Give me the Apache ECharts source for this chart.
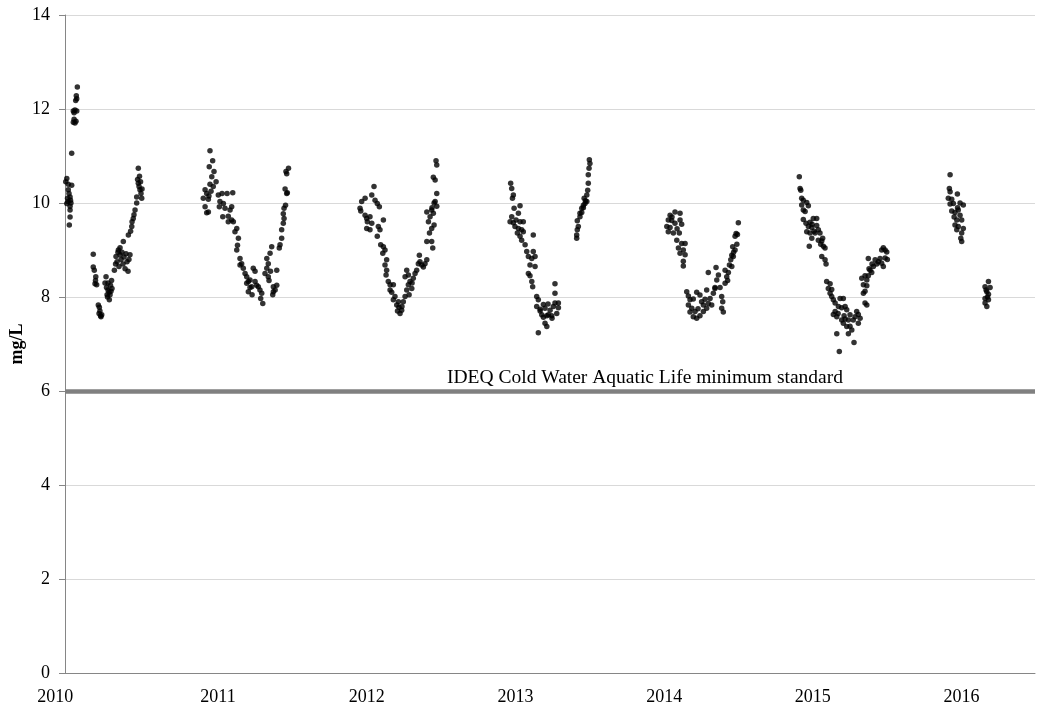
<!DOCTYPE html>
<html>
<head>
<meta charset="utf-8">
<script src="https://cdn.jsdelivr.net/npm/echarts@6/dist/echarts.min.js"></script>
<style>
  html, body { margin: 0; padding: 0; background: #fff; }
  #chart { width: 1037px; height: 713px; }
</style>
</head>
<body>
<div id="chart"></div>
<script>
// Dissolved oxygen readings, [decimal year, mg/L], grouped by season
const obs2010 = [
  [2009.983,10.52],[2009.976,10.45],[2009.993,10.40],[2010.016,10.38],[2009.993,10.28],[2009.998,10.20],[2010.005,10.13],[2010.008,10.06],[2009.983,9.99],[2009.991,10.03],[2010.005,9.93],[2010.005,9.85],[2010.005,9.70],[2010.000,9.53],[2009.988,10.10],[2010.011,10.00],
  [2010.054,12.47],[2010.050,12.22],[2010.043,12.18],[2010.047,12.28],[2010.027,11.96],[2010.038,11.98],[2010.050,11.96],[2010.032,11.92],[2010.027,11.72],[2010.038,11.70],[2010.045,11.74],[2010.032,11.78],[2010.016,11.06],
  [2010.161,8.91],[2010.161,8.64],[2010.168,8.57],[2010.178,8.43],[2010.173,8.28],[2010.184,8.26],[2010.176,8.35],
  [2010.195,7.83],[2010.202,7.78],[2010.206,7.70],[2010.218,7.62],[2010.213,7.58],[2010.200,7.65],[2010.210,7.60],
  [2010.247,8.43],[2010.240,8.30],[2010.250,8.20],[2010.260,8.15],[2010.254,8.05],[2010.269,7.94],[2010.274,8.05],[2010.280,8.12],[2010.260,8.30],[2010.277,8.25],[2010.287,8.18],[2010.267,8.10],[2010.257,8.00],[2010.284,8.35],
  [2010.303,8.57],[2010.314,8.86],[2010.330,9.00],[2010.321,8.75],[2010.334,8.65],[2010.341,8.90],[2010.348,8.80],[2010.354,8.95],[2010.361,8.70],[2010.368,8.85],[2010.375,8.60],[2010.381,8.92],[2010.388,8.75],[2010.395,8.55],[2010.401,8.80],[2010.408,8.90],[2010.311,8.70],[2010.327,8.95],[2010.341,9.05],[2010.363,9.18],[2010.397,9.32],[2010.420,9.50],[2010.430,9.67],[2010.442,9.85],[2010.453,10.00],[2010.453,10.13],[2010.464,10.42],[2010.472,10.57],[2010.464,10.74],[2010.487,10.10],[2010.475,10.28],[2010.469,10.35],[2010.479,10.45],[2010.482,10.20],[2010.489,10.30],[2010.459,10.50],[2010.435,9.75],[2010.422,9.60],[2010.412,9.40]
];
const obs2011 = [
  [2010.946,11.11],[2010.964,10.90],[2010.941,10.77],[2010.973,10.67],[2010.958,10.56],[2010.987,10.45],[2010.946,10.40],[2010.968,10.35],[2010.913,10.28],[2010.924,10.20],[2010.901,10.10],[2010.935,10.08],[2010.913,9.92],[2010.935,9.81],[2010.924,9.79],[2010.953,10.25],[2010.939,10.15],
  [2011.002,10.17],[2011.027,10.20],[2011.061,10.20],[2011.099,10.22],[2011.013,10.03],[2011.036,9.99],[2011.009,9.92],[2011.047,9.89],[2011.081,9.85],[2011.092,9.92],[2011.032,9.71],[2011.069,9.72],[2011.092,9.64],[2011.103,9.60],[2011.069,9.60],[2011.126,9.46],[2011.114,9.39],[2011.137,9.25],[2011.126,9.00],[2011.131,9.10],
  [2011.148,8.82],[2011.159,8.71],[2011.148,8.68],[2011.170,8.61],[2011.182,8.50],[2011.193,8.43],[2011.204,8.33],[2011.215,8.36],[2011.237,8.61],[2011.249,8.55],[2011.193,8.29],[2011.204,8.11],[2011.227,8.22],[2011.249,8.33],[2011.271,8.22],[2011.282,8.15],[2011.260,8.25],[2011.294,8.08],[2011.287,7.97],[2011.301,7.86],[2011.215,8.20],[2011.229,8.05],
  [2011.328,8.61],[2011.338,8.71],[2011.328,8.82],[2011.350,8.93],[2011.361,9.07],[2011.316,8.50],[2011.338,8.43],[2011.395,8.57],[2011.372,8.22],[2011.384,8.15],[2011.395,8.25],[2011.372,8.11],[2011.368,8.05],[2011.343,8.35],[2011.353,8.55],
  [2011.412,9.04],[2011.417,9.11],[2011.428,9.25],[2011.428,9.43],[2011.439,9.57],[2011.444,9.67],[2011.439,9.77],[2011.444,9.89],[2011.454,9.95],[2011.462,10.20],[2011.466,10.22],[2011.457,10.67],[2011.462,10.62],[2011.474,10.74],[2011.451,10.30]
];
const obs2012 = [
  [2012.049,10.35],[2012.034,10.17],[2012.056,10.06],[2012.071,9.99],[2012.085,9.92],[2011.989,10.10],[2011.966,10.03],[2011.955,9.89],[2011.960,9.83],[2011.989,9.74],[2012.000,9.67],[2012.022,9.71],[2012.004,9.60],[2012.034,9.57],[2012.000,9.46],[2012.022,9.43],[2012.078,9.50],[2012.089,9.43],[2012.112,9.64],[2012.071,9.29],[2012.094,9.11],[2012.112,9.07],[2012.123,9.00],[2012.108,8.93],[2012.134,8.79],[2012.123,8.68],[2012.134,8.57],[2012.130,8.47],[2012.145,8.33],[2012.157,8.26],[2012.179,8.26],[2012.157,8.15],[2012.168,8.10],[2012.190,8.01],[2012.179,7.94],[2012.213,7.90],[2012.202,7.83],[2012.224,7.65],[2012.235,7.72],[2012.246,7.90],[2012.217,7.78],[2012.207,7.70],[2012.237,7.80],
  [2012.258,8.01],[2012.269,8.15],[2012.280,8.26],[2012.291,8.33],[2012.258,8.43],[2012.269,8.57],[2012.280,8.47],[2012.303,8.18],[2012.313,8.40],[2012.325,8.50],[2012.336,8.57],[2012.347,8.71],[2012.358,8.75],[2012.370,8.68],[2012.381,8.64],[2012.392,8.71],[2012.354,8.89],[2012.404,8.79],[2012.285,8.05],[2012.305,8.30],
  [2012.404,9.18],[2012.437,9.18],[2012.444,9.04],[2012.422,9.36],[2012.437,9.46],[2012.453,9.53],[2012.415,9.60],[2012.426,9.71],[2012.404,9.81],[2012.437,9.85],[2012.448,9.78],[2012.471,9.93],[2012.460,10.03],[2012.471,10.20],[2012.460,10.49],[2012.448,10.55],[2012.471,10.81],[2012.466,10.90],[2012.453,10.00],[2012.439,9.90]
];
const obs2013 = [
  [2012.968,10.42],[2012.975,10.31],[2012.986,10.17],[2012.980,10.10],[2012.991,9.89],[2013.031,9.94],[2013.020,9.78],[2012.975,9.71],[2012.964,9.60],[2012.986,9.58],[2013.004,9.64],[2013.031,9.60],[2013.053,9.60],[2012.997,9.50],[2013.020,9.46],[2013.042,9.43],[2013.013,9.36],[2013.031,9.29],[2013.053,9.39],[2013.120,9.32],[2013.042,9.21],[2013.065,9.11],[2013.076,8.97],[2013.120,8.97],[2013.087,8.86],[2013.132,8.86],[2013.110,8.82],[2013.098,8.68],[2013.132,8.65],[2013.087,8.50],[2013.098,8.45],[2013.110,8.33],[2013.116,8.22],
  [2013.143,8.01],[2013.154,7.94],[2013.143,7.80],[2013.166,7.74],[2013.177,7.62],[2013.188,7.57],[2013.211,7.60],[2013.199,7.44],[2013.211,7.37],[2013.154,7.24],[2013.221,7.62],[2013.233,7.72],[2013.255,7.80],[2013.278,7.65],[2013.266,7.87],[2013.289,7.87],[2013.188,7.84],[2013.199,7.76],[2013.266,8.08],[2013.266,8.28],[2013.166,7.70],[2013.244,7.60],[2013.289,7.77],[2013.219,7.85],[2013.246,7.55],
  [2013.412,9.25],[2013.412,9.32],[2013.416,9.43],[2013.423,9.50],[2013.416,9.62],[2013.434,9.71],[2013.434,9.78],[2013.446,9.89],[2013.457,9.90],[2013.468,9.99],[2013.480,10.03],[2013.462,10.10],[2013.480,10.17],[2013.486,10.27],[2013.490,10.42],[2013.490,10.60],[2013.495,10.74],[2013.501,10.84],[2013.497,10.92],[2013.457,9.95],[2013.446,9.80],[2013.471,10.05]
];
const obs2014 = [
  [2014.073,9.81],[2014.040,9.74],[2014.107,9.78],[2014.028,9.64],[2014.051,9.63],[2014.018,9.50],[2014.040,9.48],[2014.073,9.57],[2014.107,9.64],[2014.118,9.55],[2014.028,9.39],[2014.062,9.36],[2014.102,9.36],[2014.085,9.21],[2014.118,9.14],[2014.141,9.14],[2014.096,9.04],[2014.129,9.00],[2014.107,8.93],[2014.141,8.90],[2014.129,8.76],[2014.129,8.66],[2014.053,9.70],[2014.087,9.45],
  [2014.152,8.11],[2014.163,8.02],[2014.174,7.94],[2014.196,7.96],[2014.219,8.10],[2014.241,8.04],[2014.163,7.83],[2014.186,7.76],[2014.208,7.69],[2014.174,7.68],[2014.196,7.58],[2014.219,7.55],[2014.241,7.60],[2014.264,7.69],[2014.264,7.83],[2014.286,7.76],[2014.297,7.86],[2014.309,7.97],[2014.331,8.08],[2014.342,8.18],[2014.320,7.83],[2014.286,8.15],[2014.297,8.52],[2014.342,8.20],[2014.354,8.36],[2014.349,8.63],[2014.365,8.47],[2014.376,8.20],[2014.387,8.01],[2014.394,7.90],[2014.387,7.76],[2014.398,7.68],[2014.228,7.75],[2014.252,7.90],[2014.275,7.95],
  [2014.410,8.29],[2014.421,8.43],[2014.410,8.57],[2014.432,8.52],[2014.439,8.68],[2014.455,8.65],[2014.448,8.79],[2014.455,8.89],[2014.477,9.00],[2014.465,8.86],[2014.461,9.07],[2014.489,9.12],[2014.477,9.29],[2014.493,9.33],[2014.484,9.35],[2014.499,9.58],[2014.427,8.35],[2014.467,8.95]
];
const obs2015 = [
  [2014.909,10.56],[2014.914,10.31],[2014.919,10.27],[2014.925,10.10],[2014.936,10.06],[2014.925,9.96],[2014.959,10.01],[2014.970,9.94],[2014.936,9.85],[2014.948,9.82],[2014.936,9.65],[2014.954,9.57],[2014.981,9.59],[2015.003,9.67],[2015.026,9.67],[2014.970,9.50],[2014.993,9.48],[2015.026,9.52],[2015.037,9.43],[2014.959,9.39],[2014.981,9.36],[2015.015,9.36],[2015.048,9.36],[2014.993,9.25],[2015.037,9.21],[2015.066,9.25],[2015.060,9.19],[2015.071,9.08],[2014.976,9.08],[2015.053,9.12],[2015.082,9.04],[2015.060,8.86],[2015.082,8.79],[2015.089,8.70],[2014.995,9.55],[2015.008,9.40],
  [2015.093,8.33],[2015.116,8.28],[2015.104,8.18],[2015.127,8.16],[2015.116,8.08],[2015.127,8.01],[2015.138,7.94],[2015.150,7.87],[2015.183,7.97],[2015.205,7.97],[2015.172,7.80],[2015.150,7.69],[2015.138,7.63],[2015.194,7.77],[2015.217,7.80],[2015.228,7.73],[2015.161,7.58],[2015.194,7.51],[2015.217,7.53],[2015.239,7.51],[2015.205,7.44],[2015.228,7.37],[2015.250,7.38],[2015.262,7.30],[2015.239,7.22],[2015.272,7.51],[2015.284,7.58],[2015.295,7.69],[2015.306,7.63],[2015.318,7.55],[2015.277,7.03],[2015.161,7.22],[2015.178,6.84],[2015.306,7.44],[2015.250,7.62],[2015.170,7.65],[2015.210,7.60],
  [2015.351,7.87],[2015.363,7.83],[2015.340,8.08],[2015.351,8.12],[2015.340,8.26],[2015.363,8.24],[2015.329,8.40],[2015.351,8.45],[2015.363,8.36],[2015.373,8.45],[2015.385,8.57],[2015.396,8.52],[2015.373,8.82],[2015.407,8.65],[2015.430,8.70],[2015.441,8.75],[2015.419,8.79],[2015.452,8.82],[2015.463,8.72],[2015.474,8.65],[2015.463,9.00],[2015.486,9.00],[2015.497,8.96],[2015.474,9.05],[2015.501,8.80],[2015.486,8.83],[2015.378,8.60],[2015.398,8.70]
];
const obs2016 = [
  [2015.923,10.60],[2015.918,10.31],[2015.923,10.24],[2015.911,10.10],[2015.934,10.08],[2015.972,10.19],[2015.945,9.99],[2015.923,9.98],[2015.990,10.00],[2016.012,9.96],[2015.978,9.85],[2015.934,9.83],[2015.956,9.80],[2015.990,9.74],[2015.968,9.64],[2016.001,9.64],[2015.956,9.53],[2015.978,9.50],[2016.012,9.46],[2015.968,9.43],[2016.001,9.36],[2015.995,9.25],[2016.001,9.18],[2015.950,9.70],[2015.973,9.90],
  [2016.181,8.33],[2016.158,8.22],[2016.192,8.20],[2016.170,8.11],[2016.181,8.06],[2016.158,7.97],[2016.181,7.94],[2016.158,7.87],[2016.170,7.80],[2016.175,8.00],[2016.165,8.15]
];

// Axis ticks and the reference standard
const yearTicks = [2010, 2011, 2012, 2013, 2014, 2015, 2016];
const yMin = 0, yMax = 14, yStep = 2;
const standardValue = 6;
const standardLabel = 'IDEQ Cold Water Aquatic Life minimum standard';

const serif = "'Liberation Serif', 'Times New Roman', serif";
const allObs = [].concat(obs2010, obs2011, obs2012, obs2013, obs2014, obs2015, obs2016);

const chart = echarts.init(document.getElementById('chart'), null, { renderer: 'canvas' });
chart.setOption({
  animation: false,
  backgroundColor: '#ffffff',
  grid: { left: 65, right: 2, top: 15, bottom: 40, containLabel: false, outerBoundsMode: 'none' },
  xAxis: {
    type: 'value',
    min: 2009.971,
    max: 2016.494,
    splitLine: { show: false },
    axisLine: { lineStyle: { color: '#868686', width: 1 } },
    axisTick: { show: false },
    axisLabel: {
      customValues: yearTicks,
      margin: 15,
      color: '#000',
      fontFamily: serif,
      fontSize: 18,
      formatter: v => (v === yearTicks[0] ? '{first|' + v + '}' : String(v)),
      rich: {
        first: { padding: [0, 28, 0, 0], color: '#000', fontFamily: serif, fontSize: 18 }
      }
    }
  },
  yAxis: {
    type: 'value',
    min: yMin,
    max: yMax,
    interval: yStep,
    name: 'mg/L',
    nameLocation: 'middle',
    nameGap: 39,
    nameMoveOverlap: false,
    nameTextStyle: { color: '#000', fontFamily: serif, fontSize: 18, fontWeight: 'bold' },
    axisLine: { show: true, lineStyle: { color: '#868686', width: 1 } },
    axisTick: { show: true, length: 6, lineStyle: { color: '#868686' } },
    splitLine: { lineStyle: { color: '#d9d9d9', width: 1 } },
    axisLabel: { margin: 15, color: '#000', fontFamily: serif, fontSize: 18 }
  },
  series: [{
    type: 'scatter',
    data: allObs,
    symbol: 'circle',
    symbolSize: 5.5,
    itemStyle: { color: '#000000' },
    markLine: {
      silent: true,
      symbol: 'none',
      lineStyle: { type: 'solid', color: '#808080', width: 4.5 },
      data: [{ yAxis: standardValue }],
      label: {
        show: true,
        position: 'insideMiddleTop',
        formatter: standardLabel,
        offset: [95, 0],
        distance: 3,
        color: '#000',
        fontFamily: serif,
        fontSize: 19.5
      }
    }
  }]
});
</script>
</body>
</html>
